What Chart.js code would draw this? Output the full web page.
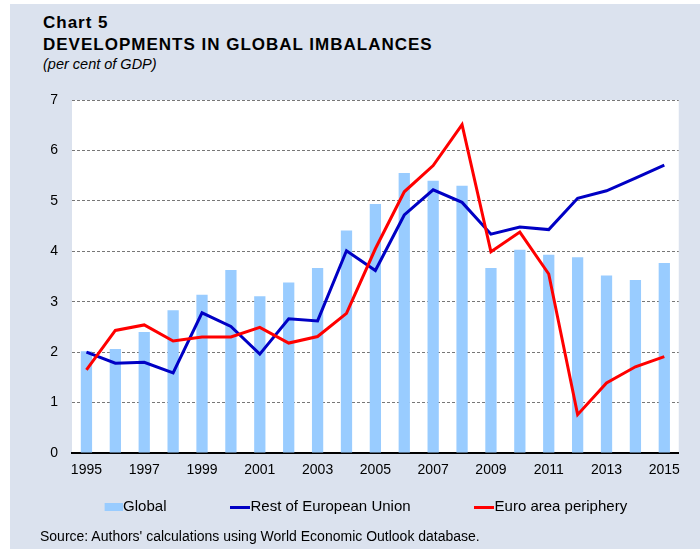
<!DOCTYPE html>
<html>
<head>
<meta charset="utf-8">
<script src="https://cdn.jsdelivr.net/npm/chart.js@4.4.1/dist/chart.umd.min.js"></script>
<style>
  html, body { margin: 0; padding: 0; background: #ffffff; }
  body { width: 700px; height: 549px; overflow: hidden; position: relative; font-family: 'Liberation Sans', Arial, Helvetica, sans-serif; color: #000; }
  #panel { position: absolute; left: 10px; top: 4px; width: 690px; height: 545px; background: #dbe2ee; }
  .t { position: absolute; white-space: nowrap; }
  #t1 { left: 43px; top: 13.9px; font-size: 17px; line-height: 17px; font-weight: bold; letter-spacing: 1px; }
  #t2 { left: 43px; top: 36.3px; font-size: 17px; line-height: 17px; font-weight: bold; letter-spacing: 1px; }
  #t3 { left: 43px; top: 56.7px; font-size: 14.5px; line-height: 14.5px; font-style: italic; }
  #src { left: 40px; top: 529.2px; font-size: 14px; line-height: 14px; }
  #c { position: absolute; left: 0; top: 0; }
</style>
</head>
<body>
<div id="panel"></div>
<div class="t" id="t1">Chart 5</div>
<div class="t" id="t2">DEVELOPMENTS IN GLOBAL IMBALANCES</div>
<div class="t" id="t3">(per cent of GDP)</div>
<canvas id="c" width="700" height="549"></canvas>
<div class="t" id="src">Source: Authors' calculations using World Economic Outlook database.</div>
<script>
// ---- data ----
const years = ['1995','1996','1997','1998','1999','2000','2001','2002','2003','2004','2005',
               '2006','2007','2008','2009','2010','2011','2012','2013','2014','2015'];
const globalVals = [2.02, 2.06, 2.40, 2.83, 3.14, 3.63, 3.11, 3.38, 3.67, 4.41, 4.94,
                    5.55, 5.40, 5.30, 3.67, 4.03, 3.93, 3.88, 3.52, 3.43, 3.77];
const restEUVals = [2.00, 1.78, 1.80, 1.59, 2.78, 2.51, 1.96, 2.66, 2.62, 4.01, 3.62,
                    4.72, 5.22, 4.97, 4.34, 4.48, 4.43, 5.05, 5.20, 5.45, 5.71];
const euroPeriphVals = [1.65, 2.43, 2.54, 2.22, 2.30, 2.30, 2.49, 2.18, 2.31, 2.77, 4.05,
                        5.18, 5.70, 6.51, 3.99, 4.38, 3.55, 0.76, 1.39, 1.71, 1.91];
const yTicks = [0, 1, 2, 3, 4, 5, 6, 7];
const seriesNames = ['Global', 'Rest of European Union', 'Euro area periphery'];

const FONT = "'Liberation Sans', Arial, Helvetica, sans-serif";
const C_BAR = '#99ccff', C_BLUE = '#0000c4', C_RED = '#ff0000';

function swatch(color, h, x0) {
  const c = document.createElement('canvas');
  c.width = 20; c.height = h;
  const g = c.getContext('2d');
  g.fillStyle = color;
  g.fillRect(x0, 0, 20 - x0, h);
  return c;
}
const blank = document.createElement('canvas'); blank.width = 1; blank.height = 1;

const plotBg = {
  id: 'plotBg',
  beforeDraw(chart) {
    const { ctx, chartArea: a } = chart;
    ctx.save();
    ctx.fillStyle = '#ffffff';
    ctx.fillRect(a.left, a.top, a.right - a.left, a.bottom - a.top);
    ctx.restore();
  }
};

new Chart(document.getElementById('c'), {
  data: {
    labels: years,
    datasets: [
      { type: 'bar', label: seriesNames[0], data: globalVals, backgroundColor: C_BAR,
        borderWidth: 0, categoryPercentage: 1, barPercentage: 0.39, order: 3 },
      { type: 'line', label: seriesNames[1], data: restEUVals, borderColor: C_BLUE,
        borderWidth: 3, pointRadius: 0, tension: 0, fill: false, order: 2 },
      { type: 'line', label: seriesNames[2], data: euroPeriphVals, borderColor: C_RED,
        borderWidth: 3, pointRadius: 0, tension: 0, fill: false, order: 1 }
    ]
  },
  options: {
    responsive: false,
    animation: false,
    devicePixelRatio: 1,
    layout: { padding: { top: 100, left: 30, right: 21.25, bottom: 24.5 } },
    scales: {
      x: {
        grid: { display: false, drawTicks: false },
        border: { display: true, color: '#000000', width: 2 },
        ticks: {
          autoSkip: false, maxRotation: 0, padding: 9, color: '#000',
          font: { family: FONT, size: 14 },
          callback: function (v, i) { return i % 2 === 0 ? years[i] : ''; }
        },
        afterFit: (s) => { s.height = 32; }
      },
      y: {
        min: yTicks[0], max: yTicks[yTicks.length - 1],
        grid: { color: '#777777', lineWidth: 1, drawTicks: false },
        border: { display: false, dash: [3, 2] },
        ticks: {
          stepSize: 1, autoSkip: false, padding: 14, color: '#000',
          font: { family: FONT, size: 14 },
          callback: (v) => String(v)
        },
        afterFit: (s) => { s.width = 42; }
      }
    },
    plugins: {
      tooltip: { enabled: false },
      legend: {
        position: 'bottom',
        align: 'center',
        labels: {
          usePointStyle: true,
          pointStyleWidth: 6,
          padding: 14.5,
          color: '#000',
          font: { family: FONT, size: 15 },
          generateLabels: () => {
            const dummy = () => ({ text: '', pointStyle: blank, fillStyle: 'rgba(0,0,0,0)', strokeStyle: 'rgba(0,0,0,0)', lineWidth: 0, hidden: false });
            return [
              dummy(),
              { text: seriesNames[0], pointStyle: swatch(C_BAR, 8, 2), fillStyle: C_BAR, strokeStyle: C_BAR, lineWidth: 0, hidden: false, datasetIndex: 0 },
              dummy(), dummy(),
              { text: seriesNames[1], pointStyle: swatch(C_BLUE, 3, 0), fillStyle: C_BLUE, strokeStyle: C_BLUE, lineWidth: 0, hidden: false, datasetIndex: 1 },
              dummy(), dummy(),
              { text: seriesNames[2], pointStyle: swatch(C_RED, 3, 0), fillStyle: C_RED, strokeStyle: C_RED, lineWidth: 0, hidden: false, datasetIndex: 2 }
            ];
          }
        }
      }
    }
  },
  plugins: [plotBg]
});
</script>
</body>
</html>
